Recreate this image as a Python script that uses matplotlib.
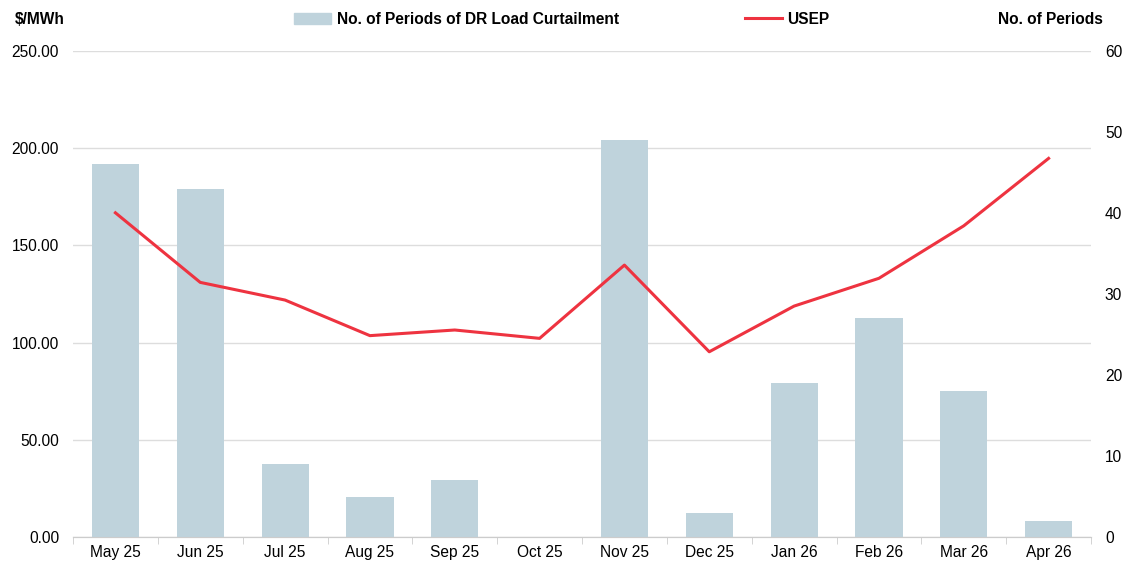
import matplotlib
matplotlib.use("Agg")
import matplotlib.pyplot as plt
from matplotlib.patches import Patch
from matplotlib.lines import Line2D
import numpy as np

plt.rcParams['font.family'] = ['Liberation Sans', 'DejaVu Sans']

months = ['May 25', 'Jun 25', 'Jul 25', 'Aug 25', 'Sep 25', 'Oct 25',
          'Nov 25', 'Dec 25', 'Jan 26', 'Feb 26', 'Mar 26', 'Apr 26']
periods = [46, 43, 9, 5, 7, 0, 49, 3, 19, 27, 18, 2]
usep = [166.8, 131.0, 121.9, 103.6, 106.5, 102.2,
        139.9, 95.3, 118.8, 133.1, 160.1, 194.8]

left_ticks = [0, 50, 100, 150, 200, 250]
right_ticks = [0, 10, 20, 30, 40, 50, 60]

bar_color = '#BFD3DC'
line_color = '#EE3340'
fs = 11.2

fig = plt.figure(figsize=(11.3, 5.67), dpi=100)
ax = fig.add_axes([0.0646, 0.0529, 0.9009, 0.857])
ax2 = ax.twinx()

x = np.arange(len(months))

# left axis: USEP, gridlines
ax.set_ylim(0, 250)
ax.set_yticks(left_ticks)
ax.set_yticklabels([f'{v:.2f}' for v in left_ticks])
ax.grid(axis='y', color='#DDDDDD', linewidth=1)
ax.set_axisbelow(True)

# right axis: bars
ax2.bar(x, periods, width=0.556, color=bar_color, zorder=1)
ax2.set_ylim(0, 60)
ax2.set_yticks(right_ticks)

# line on top of the bars
ax3 = ax.twinx()
ax3.set_ylim(0, 250)
ax3.plot(x, usep, color=line_color, linewidth=2.2, zorder=3)
ax3.axis('off')

ax.set_xlim(-0.5, len(months) - 0.5)
ax.set_xticks(x)
ax.set_xticklabels(months)
ax.set_xticks(np.arange(-0.5, len(months)), minor=True)
ax.tick_params(axis='x', which='major', length=0, pad=6, labelsize=fs)
ax.tick_params(axis='x', which='minor', length=5, color='#CCCCCC')
ax.tick_params(axis='y', length=0, pad=10, labelsize=fs)
ax2.tick_params(axis='y', length=0, pad=10, labelsize=fs)

for a in (ax, ax2):
    for s in ('top', 'left', 'right'):
        a.spines[s].set_visible(False)
    a.spines['bottom'].set_color('#CCCCCC')

# header texts
fig.text(0.013, 0.966, '$/MWh', fontsize=fs, fontweight='bold', va='center')
fig.text(0.976, 0.966, 'No. of Periods', fontsize=fs, fontweight='bold',
         va='center', ha='right')

handles = [Patch(color=bar_color), Line2D([0], [0], color=line_color, linewidth=2.2)]
fig.legend(handles, ['No. of Periods of DR Load Curtailment', 'USEP'],
           loc='center left', bbox_to_anchor=(0.260, 0.966), ncol=2, frameon=False,
           prop={'weight': 'bold', 'size': fs}, columnspacing=8.1,
           handlelength=2.4, handletextpad=0.35, borderpad=0, borderaxespad=0)

fig.savefig('out.png', dpi=100)
